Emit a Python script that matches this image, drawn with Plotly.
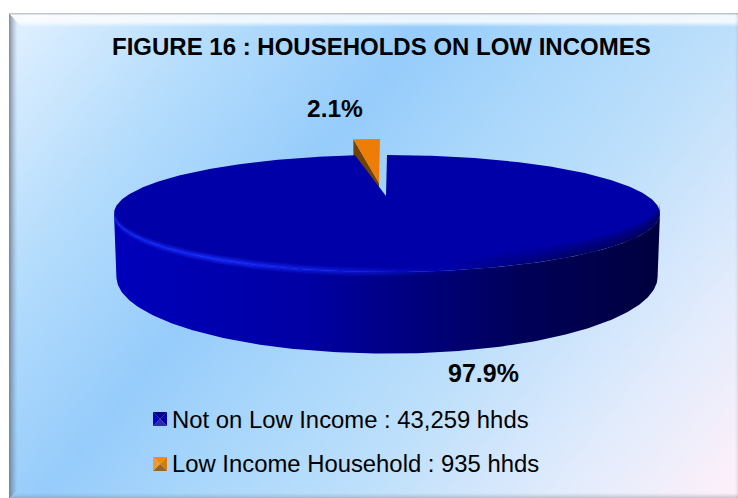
import numpy as np
import plotly.graph_objects as go

# ---- data ----
categories = ["Not on Low Income", "Low Income Household"]
households = [43259, 935]
legend_labels = ["Not on Low Income : 43,259 hhds", "Low Income Household : 935 hhds"]
title_text = "FIGURE 16 : HOUSEHOLDS ON LOW INCOMES"

W, H = 738, 498
total = sum(households)
shares = [v / total for v in households]

# ---- background panel ----
PX0, PY0 = 9, 13
def hexrgb(h):
    return np.array([int(h[i:i + 2], 16) for i in (1, 3, 5)], float)
stops = [(0, "#e2f1ff"), (.2, "#b4dcfc"), (.38, "#96ccfb"), (.5, "#a8d6fb"), (.65, "#bcdffb"), (.85, "#e4ecfc"), (1, "#fff0f9")]
xs = np.arange(PX0, W) + .5
ys = np.arange(PY0, H) + .5
XX, YY = np.meshgrid(xs, ys)
t = .65 * (XX - PX0) / (W - PX0) + .35 * (YY - PY0) / (H - PY0)
img = np.stack([np.interp(t, [s[0] for s in stops], [hexrgb(s[1])[c] for s in stops]) for c in range(3)], -1)

def blend(mask_alpha, col):
    global img
    img = img * (1 - mask_alpha[..., None]) + np.array(col, float) * mask_alpha[..., None]

dl, dt = XX - PX0, YY - PY0
dr, db = W - XX, 498.5 - YY
top = np.clip(1 - dt / 14, 0, 1) * (dt <= dl + 1) * (dt <= dr + 12)
blend(np.clip(top * 2.2, 0, .8), (255, 255, 255))
left = np.clip(1 - dl / 9, 0, 1) ** 1.4 * (dl < dt) * (dl < db)
blend(left * .75, (95, 105, 125))
bottom = np.clip(1 - db / 6, 0, 1) ** 1.4
blend(bottom * .5, (130, 140, 155))
right = np.clip(1 - dr / 3, 0, 1)
blend(right * .2, (130, 140, 155))
edge = np.clip(1 - dt / 2.5, 0, 1)
blend(edge * .7, (150, 155, 165))

# ---- perspective projection of the pie ----
CX, CY, A, HT, K, DEPTH = 387, 196, 260.5, 53.3, .299, 58

def project(theta, r=1.0, drop=0.0, dx=0.0, dy=0.0):
    th = np.radians(theta)
    X, Y = r * np.cos(th), r * np.sin(th)
    s = 1 / (1 + K * Y)
    return CX + A * X * s + dx, CY - HT * Y * s + drop * s + dy

sweep = 360 * shares[1]
notch = sweep * 1.2
ext = np.degrees(np.arcsin(K))
explode = (-7, -16)

fig = go.Figure()
fig.add_trace(go.Image(z=img.round().astype(np.uint8), x0=PX0 + .5, y0=PY0 + .5, dx=1, dy=1, hoverinfo="skip"))

def poly(x, y, color=None, grad=None, name=None):
    fig.add_trace(go.Scatter(x=list(x), y=list(y), mode="lines", fill="toself", line=dict(width=0),
                             fillcolor=color, fillgradient=grad, name=name, showlegend=False, hoverinfo="skip"))

# exploded slice
arc = np.linspace(90, 90 + sweep, 12)
ax, ay = project(arc, dx=explode[0], dy=explode[1])
tip = (CX - 1 + explode[0], CY + explode[1] + 3)
lx, ly = project(arc[-1], dx=explode[0], dy=explode[1])
wall = DEPTH * .85
poly([lx, lx, tip[0], tip[0], lx], [ly, ly + wall, tip[1] + wall, tip[1], ly], "#6f4208", name=categories[1] + " side")
poly(list(ax) + [tip[0]], list(ay) + [tip[1]], "#ee7d08", name=categories[1])

# main pie side wall
front = np.linspace(180 + ext, 360 - ext, 200)
tx, ty = project(front)
bx, by = project(front[::-1], r=.992, drop=DEPTH)
poly(list(tx) + list(bx), list(ty) + list(by),
     grad=dict(type="horizontal", colorscale=[[0, "#0000bc"], [.35, "#0000a4"], [.55, "#00007e"],
                                              [.75, "#000058"], [1, "#00003e"]]),
     name=categories[0] + " side")

# main pie top
theta = np.linspace(90, 90 - 360 + notch, 500)
mx, my = project(theta)
poly(list(mx) + [CX - 1], list(my) + [CY], "#0000a8", name=categories[0])

def band(a0, a1, up, down, scale):
    """Soft strip along the front edge of the top face."""
    arc_b = np.linspace(a0, a1, 150)
    ux, uy = project(arc_b, drop=-up)
    lox, loy = project(arc_b[::-1], drop=down)
    poly(list(ux) + list(lox), list(uy) + list(loy), grad=dict(type="horizontal", colorscale=scale), name="rim")

# soft dark fade on the right of the top face
for up in (10, 7, 4, 2):
    band(280, 360 - ext, up, 0, [[0, "rgba(0,0,60,0)"], [.6, "rgba(0,0,60,0.2)"], [1, "rgba(0,0,60,0.25)"]])

# bright highlight on the left of the rim
glow = lambda a: [[0, f"rgba(20,40,245,{a * .8})"], [.3, f"rgba(25,45,250,{a})"], [.7, f"rgba(15,30,230,{a * .6})"],
                  [1, "rgba(0,0,170,0)"]]
for half, a in ((3.2, .25), (2.2, .35), (1.1, .6)):
    band(180 + ext, 285, half, half, glow(a))

# legend swatches
def swatch(x0, y0, s, cols):
    c = (x0 + s / 2, y0 + s / 2)
    corners = [(x0, y0), (x0 + s, y0), (x0 + s, y0 + s), (x0, y0 + s)]
    for i, col in enumerate(cols):
        a, b = corners[i], corners[(i + 1) % 4]
        poly([a[0], b[0], c[0]], [a[1], b[1], c[1]], col, name="swatch")

swatch(153, 412, 14, ["#000088", "#0000a8", "#2a2aa6", "#0000c0"])
swatch(153, 457, 14, ["#f08c10", "#d87a10", "#9a6420", "#f09a30"])

fs = "Liberation Sans, Arial, sans-serif"
def text(x, y, s, size, bold=False, anchor="center"):
    fig.add_annotation(x=x, y=y, text=f"<b>{s}</b>" if bold else s, showarrow=False, xanchor=anchor, yanchor="middle",
                       font=dict(family=fs, size=size, color="#000000"), xref="x", yref="y")

text(381, 46, title_text, 24, bold=True)
text(335, 108, f"{shares[1] * 100:.1f}%", 24.5, bold=True)
text(483, 373, f"{shares[0] * 100:.1f}%", 25, bold=True)
text(170, 419, legend_labels[0], 23.85, anchor="left")
text(170, 463, legend_labels[1], 23.85, anchor="left")

fig.update_layout(width=W, height=H, autosize=False, margin=dict(l=0, r=0, t=0, b=0),
                  paper_bgcolor="#ffffff", plot_bgcolor="rgba(0,0,0,0)", showlegend=False,
                  xaxis=dict(range=[0, W], visible=False, fixedrange=True, constrain="domain"),
                  yaxis=dict(range=[H, 0], visible=False, fixedrange=True, autorange=False, scaleanchor=None))
fig.write_html("out.html", config={"displayModeBar": False},
               post_script="document.body.style.margin='0';")
